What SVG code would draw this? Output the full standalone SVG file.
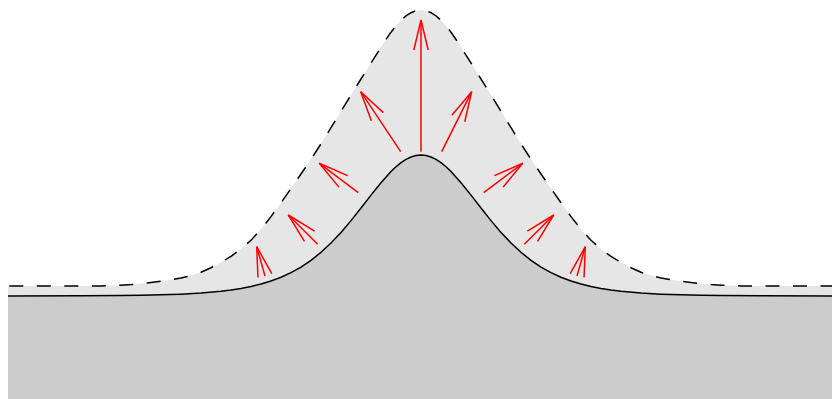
<svg xmlns="http://www.w3.org/2000/svg" width="832" height="399" viewBox="0 0 832 399">
<style>
.curve{fill:none;stroke:#000;stroke-width:1.5;stroke-linejoin:round}
.dash{stroke-dasharray:14 13.5;stroke-dashoffset:-1.3}
.arrow{fill:none;stroke:#ff0000;stroke-width:1.5;marker-end:url(#head)}
</style>
<defs>
<marker id="head" markerUnits="userSpaceOnUse" markerWidth="40" markerHeight="20" refX="0" refY="0" orient="auto" overflow="visible">
<path d="M-30,-7.2 L0,0 L-30,7.2" fill="none" stroke="#ff0000" stroke-width="1.5"/>
</marker>
</defs>
<rect width="832" height="399" fill="#fff"/>
<g id="outer-layer">
<path fill="#e6e6e6" d="M8,286 L81,286 L101,285.9 L121,285.2 L131,284.6 L141,283.7 L151,282.6 L161,281.3 L171,279.8 L181,278 L191,275.6 L201,272.2 L211,267.7 L221,262.4 L231,256.3 L241,249.1 L251,240.2 L261,229.3 L271,216.6 L281,202.8 L291,188.5 L301,174 L311,159.3 L321,143.8 L331,127.7 L341,111.3 L351,95 L361,79 L371,63 L381,47.3 L386,39.5 L391,32.2 L396,25.8 L401,20.3 L406,15.9 L411,12.7 L416,10.7 L421,10 L426,10.7 L431,12.7 L436,15.9 L441,20.3 L446,25.8 L451,32.2 L456,39.5 L461,47.3 L471,63 L481,79 L491,95 L501,111.3 L511,127.7 L521,143.8 L531,159.3 L541,174 L551,188.5 L561,202.8 L571,216.6 L581,229.3 L591,240.2 L601,249.1 L611,256.3 L621,262.4 L631,267.7 L641,272.2 L651,275.6 L661,278 L671,279.8 L681,281.3 L691,282.6 L701,283.7 L711,284.6 L721,285.2 L741,285.9 L761,286 L832,286 L832,399 L8,399 Z"/>
</g>
<g id="surface">
<path fill="#cccccc" d="M8,296 L81,295.83 L121,295.55 L141,295.28 L161,294.85 L181,294.14 L201,293.04 L221,291.26 L231,290.01 L241,288.45 L251,286.49 L261,284.04 L271,281 L281,277.24 L291,272.64 L301,267.03 L311,260.29 L321,252.31 L331,243 L341,232.39 L351,220.63 L361,208.04 L371,195.15 L381,182.7 L391,171.56 L396,166.78 L401,162.7 L406,159.41 L411,156.98 L416,155.5 L421,155 L426,155.5 L431,156.98 L436,159.41 L441,162.7 L446,166.78 L451,171.56 L461,182.7 L471,195.15 L481,208.04 L491,220.63 L501,232.39 L511,243 L521,252.31 L531,260.29 L541,267.03 L551,272.64 L561,277.24 L571,281 L581,284.04 L591,286.49 L601,288.45 L611,290.01 L621,291.26 L641,293.04 L661,294.14 L681,294.85 L701,295.28 L721,295.55 L761,295.83 L832,296 L832,399 L8,399 Z"/>
</g>
<g id="curves">
<path class="curve dash" d="M8,286 L81,286 L101,285.9 L121,285.2 L131,284.6 L141,283.7 L151,282.6 L161,281.3 L171,279.8 L181,278 L191,275.6 L201,272.2 L211,267.7 L221,262.4 L231,256.3 L241,249.1 L251,240.2 L261,229.3 L271,216.6 L281,202.8 L291,188.5 L301,174 L311,159.3 L321,143.8 L331,127.7 L341,111.3 L351,95 L361,79 L371,63 L381,47.3 L386,39.5 L391,32.2 L396,25.8 L401,20.3 L406,15.9 L411,12.7 L416,10.7 L421,10 L426,10.7 L431,12.7 L436,15.9 L441,20.3 L446,25.8 L451,32.2 L456,39.5 L461,47.3 L471,63 L481,79 L491,95 L501,111.3 L511,127.7 L521,143.8 L531,159.3 L541,174 L551,188.5 L561,202.8 L571,216.6 L581,229.3 L591,240.2 L601,249.1 L611,256.3 L621,262.4 L631,267.7 L641,272.2 L651,275.6 L661,278 L671,279.8 L681,281.3 L691,282.6 L701,283.7 L711,284.6 L721,285.2 L741,285.9 L761,286 L832,286"/>
<path class="curve" d="M8,296 L81,295.83 L121,295.55 L141,295.28 L161,294.85 L181,294.14 L201,293.04 L221,291.26 L231,290.01 L241,288.45 L251,286.49 L261,284.04 L271,281 L281,277.24 L291,272.64 L301,267.03 L311,260.29 L321,252.31 L331,243 L341,232.39 L351,220.63 L361,208.04 L371,195.15 L381,182.7 L391,171.56 L396,166.78 L401,162.7 L406,159.41 L411,156.98 L416,155.5 L421,155 L426,155.5 L431,156.98 L436,159.41 L441,162.7 L446,166.78 L451,171.56 L461,182.7 L471,195.15 L481,208.04 L491,220.63 L501,232.39 L511,243 L521,252.31 L531,260.29 L541,267.03 L551,272.64 L561,277.24 L571,281 L581,284.04 L591,286.49 L601,288.45 L611,290.01 L621,291.26 L641,293.04 L661,294.14 L681,294.85 L701,295.28 L721,295.55 L761,295.83 L832,296"/>
</g>
<g id="arrows">
<line class="arrow" x1="421" y1="151.7" x2="421" y2="20"/>
<line class="arrow" x1="400.7" y1="151.7" x2="360.7" y2="91.7"/>
<line class="arrow" x1="441.7" y1="151.7" x2="471.7" y2="91.7"/>
<line class="arrow" x1="358.3" y1="192.7" x2="319.3" y2="163.3"/>
<line class="arrow" x1="483.7" y1="192.7" x2="522.7" y2="163.3"/>
<line class="arrow" x1="317.7" y1="244.3" x2="288.3" y2="215"/>
<line class="arrow" x1="524.3" y1="244.3" x2="553.7" y2="215"/>
<line class="arrow" x1="265" y1="276" x2="256.7" y2="246.7"/>
<line class="arrow" x1="577" y1="276" x2="585.3" y2="246.7"/>
</g>
</svg>
